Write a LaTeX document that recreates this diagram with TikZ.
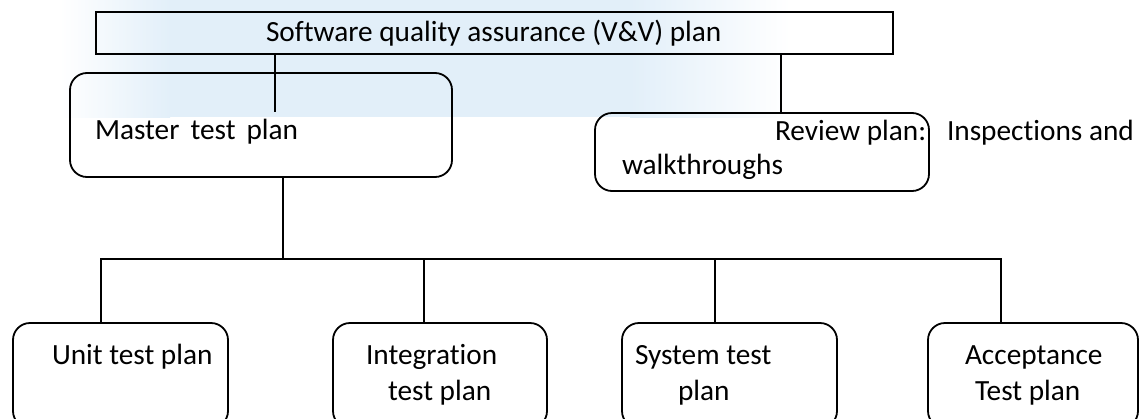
\documentclass[tikz,border=0pt]{standalone}
\usepackage{fontspec}
\setmainfont{Carlito}[Ligatures={NoCommon}]
\definecolor{wm}{RGB}{226,239,249}
\tikzset{
  box/.style={draw=black, line width=1.8pt, rounded corners=17pt, inner sep=0pt, outer sep=0pt},
  sqbox/.style={draw=black, line width=1.8pt, inner sep=0pt, outer sep=0pt},
  lbl/.style={anchor=base west, inner sep=0pt, outer sep=0pt, font=\fontsize{29.3}{35}\selectfont},
  conn/.style={line width=1.8pt},
}
\begin{document}
\begin{tikzpicture}[x=1pt,y=-1pt]
\useasboundingbox (0,0) rectangle (1140,418);
% faint watermark background
\shade[left color=white, right color=wm] (60,0) rectangle (170,117);
\fill[wm] (170,0) rectangle (630,117);
\shade[left color=wm, right color=white] (630,0) rectangle (790,117);

% boxes
\node[sqbox, minimum width=797pt, minimum height=42pt] (sqa) at (494.5,33) {};
\node[box, minimum width=382pt, minimum height=104pt] (master) at (261,125) {};
\node[box, minimum width=334pt, minimum height=78pt] (review) at (762,152) {};
\node[box, minimum width=215pt, minimum height=105pt] (unit) at (120.5,375.5) {};
\node[box, minimum width=214pt, minimum height=105pt] (integ) at (440,375.5) {};
\node[box, minimum width=215pt, minimum height=105pt] (sys) at (729.5,375.5) {};
\node[box, minimum width=210pt, minimum height=105pt] (acc) at (1033,375.5) {};

% texts
\node[lbl] (tsqa) at (266,41) {Software quality assurance (V\&V) plan};
\node[lbl] (tmaster) at (95,139) {Master\hspace{11pt}test\hspace{11pt}plan};
\node[lbl] (trev1) at (775,140) {Review plan:};
\node[lbl] (trev2) at (947,140) {Inspections and};
\node[lbl] (trev3) at (622,174) {walkthroughs};
\node[lbl] (tunit) at (52,364) {Unit test plan};
\node[lbl] (tint1) at (366,364) {Integration};
\node[lbl] (tint2) at (388,400) {test plan};
\node[lbl] (tsys1) at (635,364) {System test};
\node[lbl] (tsys2) at (678,400) {plan};
\node[lbl] (tacc1) at (965,364) {Acceptance};
\node[lbl] (tacc2) at (975,400) {Test plan};

% connectors
\coordinate (mtop) at (275,112);
\draw[conn] (sqa.south -| mtop) -- (mtop);
\coordinate (rv) at (781,113);
\draw[conn] (sqa.south -| rv) -- (review.north -| rv);
\coordinate (bus) at (283,259);
\draw[conn] (master.south -| bus) -- (bus);
\coordinate (d1) at (101,259);
\coordinate (d2) at (424,259);
\coordinate (d3) at (715,259);
\coordinate (d4) at (1001,259);
\draw[conn] (unit.north -| d1) -- (d1) -- (d4) -- (acc.north -| d4);
\draw[conn] (d2) -- (integ.north -| d2);
\draw[conn] (d3) -- (sys.north -| d3);
\end{tikzpicture}
\end{document}
